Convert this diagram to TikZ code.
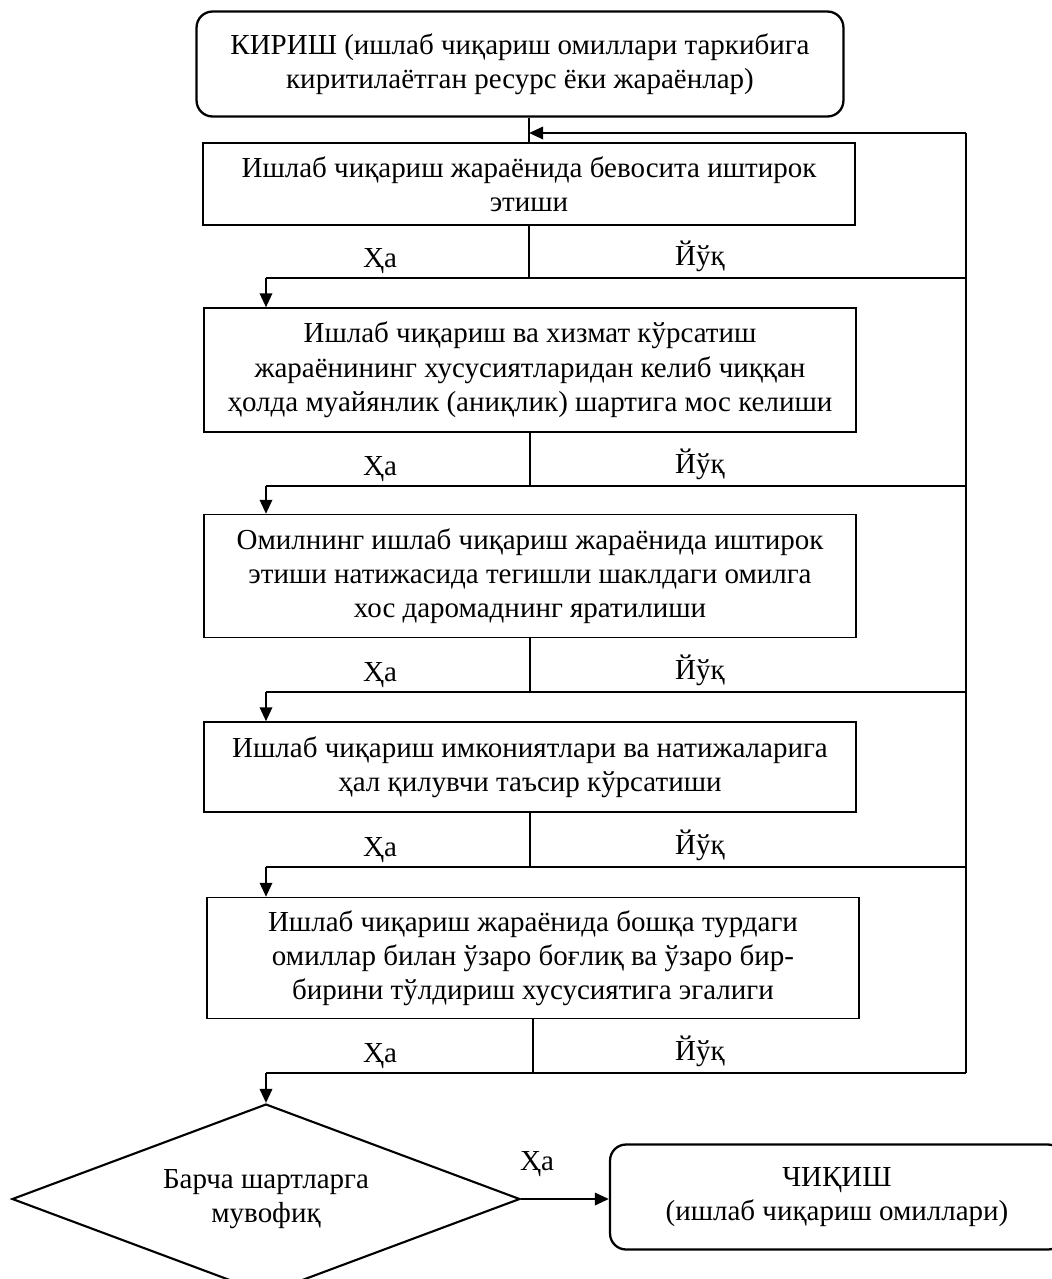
\documentclass[tikz,border=0pt]{standalone}
\usepackage{fontspec}
\setmainfont{Liberation Serif}
\usetikzlibrary{arrows.meta,positioning,shapes.geometric}

\tikzset{
    stepbox/.style={rectangle,draw,line width=0.8pt,align=center,minimum width=13.05cm,inner sep=2pt},
    termbox/.style={rectangle,rounded corners=0.32cm,draw,line width=1.3pt,align=center},
    choice/.style={diamond,aspect=2.67,draw,line width=1.2pt,align=center,minimum width=10.16cm,minimum height=3.8cm,inner sep=0pt},
    link/.style={line width=1.4pt},
    linkarrow/.style={line width=1.4pt,-{Triangle[length=8pt,width=7pt]}},
    answer/.style={anchor=base,inner sep=0pt}
}

\begin{document}
\begin{tikzpicture}[x=0.02cm,y=-0.02cm,font=\fontsize{16.5}{19.5}\selectfont]
    \useasboundingbox (0,0) rectangle (1052,1279);

    % Input
    \node[termbox,minimum width=12.94cm,minimum height=2.1cm] (input) at (520,64)
        {КИРИШ (ишлаб чиқариш омиллари таркибига\\ киритилаётган ресурс ёки жараёнлар)};

    % Conditions
    \node[stepbox,minimum height=1.64cm] (c1) at (529,184)
        {Ишлаб чиқариш жараёнида бевосита иштирок\\ этиши};
    \node[stepbox,minimum height=2.48cm] (c2) at (530,370)
        {Ишлаб чиқариш ва хизмат кўрсатиш\\ жараёнининг хусусиятларидан келиб чиққан\\ ҳолда муайянлик (аниқлик) шартига мос келиши};
    \node[stepbox,minimum height=2.46cm] (c3) at (530,576)
        {Омилнинг ишлаб чиқариш жараёнида иштирок\\ этиши натижасида тегишли шаклдаги омилга\\ хос даромаднинг яратилиши};
    \node[stepbox,minimum height=1.8cm] (c4) at (530,767)
        {Ишлаб чиқариш имкониятлари ва натижаларига\\ ҳал қилувчи таъсир кўрсатиши};
    \node[stepbox,minimum height=2.42cm] (c5) at (533,958)
        {Ишлаб чиқариш жараёнида бошқа турдаги\\ омиллар билан ўзаро боғлиқ ва ўзаро бир-\\ бирини тўлдириш хусусиятига эгалиги};

    % Decision and output
    \node[choice] (check) at (266,1199) {Барча шартларга\\ мувофиқ};
    \node[termbox,minimum width=9.08cm,minimum height=2.1cm] (output) at (837,1197)
        {ЧИҚИШ\\ (ишлаб чиқариш омиллари)};

    % Yes / No branches
    \foreach \from/\to/\y in {c1/c2/278,c2/c3/486,c3/c4/692,c4/c5/867,c5/check/1073} {
        \coordinate (yes-\from) at (266,\y);
        \coordinate (no-\from) at (966,\y);
        \draw[link] (\from.south) -- (\from.south |- yes-\from);
        \draw[link] (yes-\from) -- (no-\from);
        \draw[linkarrow] (yes-\from) -- (yes-\from |- \to.north);
        \node[answer] (ha-\from) at (380,\y-11) {Ҳа};
        \node[answer] (yuq-\from) at (700,\y-13) {Йўқ};
    }

    % Feedback loop
    \coordinate (back) at (966,133);
    \draw[link] (input.south -| c1.north) -- (c1.north);
    \draw[link] (no-c5) -- (back);
    \draw[linkarrow] (back) -- (back -| c1.north);

    \draw[linkarrow] (check.east) -- (check.east -| output.west);
    \node[answer] (ha-end) at (537,1170) {Ҳа};
\end{tikzpicture}
\end{document}
